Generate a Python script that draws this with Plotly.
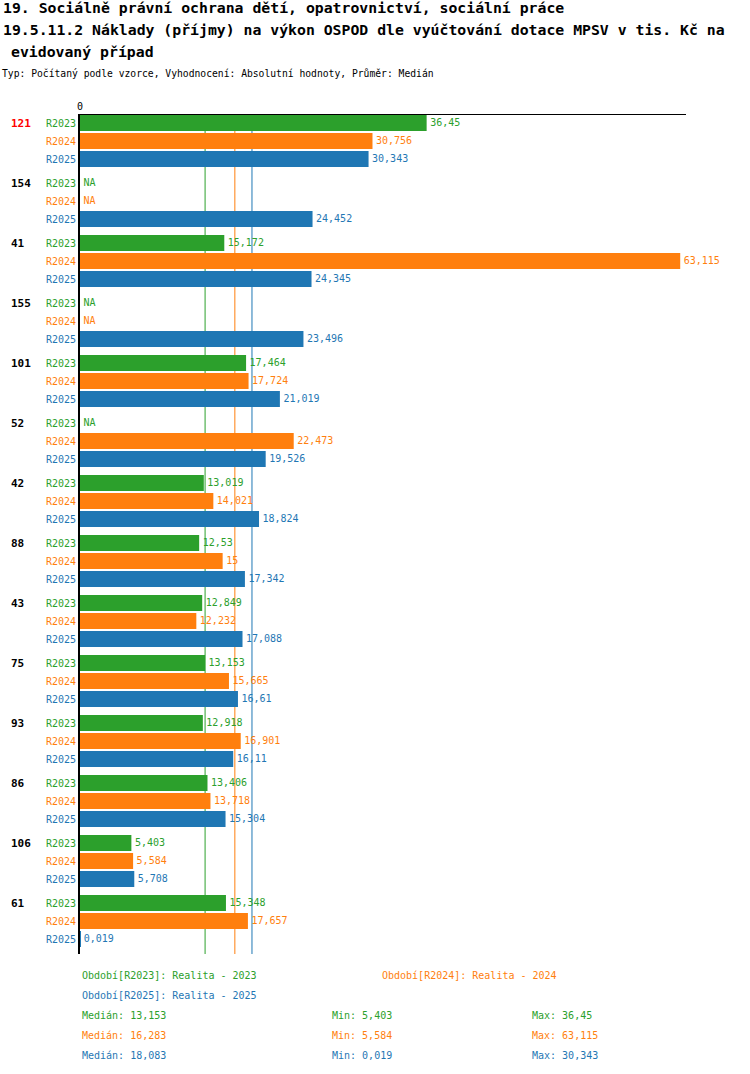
import plotly.graph_objects as go
import numpy as np

# data
groups = ["121", "154", "41", "155", "101", "52", "42", "88", "43", "75", "93", "86", "106", "61"]
periods = ["R2023", "R2024", "R2025"]
period_names = ["Realita - 2023", "Realita - 2024", "Realita - 2025"]
r2023 = [36.45, None, 15.172, None, 17.464, None, 13.019, 12.53, 12.849, 13.153, 12.918, 13.406, 5.403, 15.348]
r2024 = [30.756, None, 63.115, None, 17.724, 22.473, 14.021, 15, 12.232, 15.665, 16.901, 13.718, 5.584, 17.657]
r2025 = [30.343, 24.452, 24.345, 23.496, 21.019, 19.526, 18.824, 17.342, 17.088, 16.61, 16.11, 15.304, 5.708, 0.019]
series = [r2023, r2024, r2025]
colors = ["#2ca02c", "#ff7f0e", "#1f77b4"]
highlight = "121"

FONT = "DejaVu Sans Mono"
W, H = 750, 1074
L, R, T, B = 80, 686, 115, 954   # plot area in pixels
SLOT = 18                        # px per bar row
GROUP = 60                       # px per group


def cz(v):
    return f"{v:g}".replace(".", ",")


def px(x):
    return (x - L) / (R - L)


def py(y):
    return (B - y) / (B - T)


def row_pos(g, k):
    return (g * GROUP + k * SLOT) / SLOT


fig = go.Figure()

annotations = []
for k, (vals, col, per) in enumerate(zip(series, colors, periods)):
    ys = [row_pos(g, k) for g in range(len(groups))]
    xs = [v if v is not None else 0 for v in vals]
    fig.add_trace(go.Bar(
        x=xs,
        y=ys,
        orientation="h",
        width=16 / SLOT,
        marker=dict(color=col, line=dict(width=0)),
        hoverinfo="x",
        showlegend=False,
    ))
    fig.add_trace(go.Scatter(
        x=xs,
        y=ys,
        mode="markers+text",
        marker=dict(size=4, opacity=0),
        text=[cz(v) if v is not None else "NA" for v in vals],
        textposition="middle right",
        textfont=dict(family=FONT, size=10, color=col),
        cliponaxis=False,
        hoverinfo="skip",
        showlegend=False,
    ))
    for y in ys:
        annotations.append(dict(
            x=0, xref="paper", y=y, yref="y", text=per, showarrow=False,
            xanchor="right", xshift=-2, font=dict(family=FONT, size=10, color=col)))

# group labels
for g, name in enumerate(groups):
    annotations.append(dict(
        x=px(9), xref="paper", y=row_pos(g, 0), yref="y", text=f"<b>{name}</b>",
        showarrow=False, xanchor="left",
        font=dict(family=FONT, size=11, color="#ff0000" if name == highlight else "black")))

# median lines
shapes = []
stats = []
for vals, col in zip(series, colors):
    arr = np.array([v for v in vals if v is not None])
    med = float(np.median(arr))
    stats.append((med, arr.min(), arr.max()))
    shapes.append(dict(type="line", xref="x", yref="paper", x0=med, x1=med, y0=0, y1=1,
                       line=dict(color=col, width=1), layer="below"))

# titles
titles = [
    (1, 8, "19. Sociálně právní ochrana dětí, opatrovnictví, sociální práce"),
    (1, 30, "19.5.11.2 Náklady (příjmy) na výkon OSPOD dle vyúčtování dotace MPSV v tis. Kč na"),
    (9, 52, "evidovaný případ"),
]
for x, y, t in titles:
    annotations.append(dict(x=px(x), y=py(y), xref="paper", yref="paper", text=f"<b>{t}</b>",
                            showarrow=False, xanchor="left", yanchor="middle",
                            font=dict(family=FONT, size=14.8, color="black")))
annotations.append(dict(x=px(0), y=py(73), xref="paper", yref="paper",
                        text="Typ: Počítaný podle vzorce, Vyhodnocení: Absolutní hodnoty, Průměr: Medián",
                        showarrow=False, xanchor="left", yanchor="middle",
                        font=dict(family=FONT, size=9.7, color="black")))

# bottom legend / stats
legend_pos = [(80, 975), (380, 975), (80, 995)]
for (x, y), per, name, col in zip(legend_pos, periods, period_names, colors):
    annotations.append(dict(x=px(x), y=py(y), xref="paper", yref="paper",
                            text=f"Období[{per}]: {name}", showarrow=False,
                            xanchor="left", yanchor="middle",
                            font=dict(family=FONT, size=10, color=col)))
for i, ((med, mn, mx), col) in enumerate(zip(stats, colors)):
    y = 1015 + 20 * i
    for x, t in [(80, f"Medián: {cz(round(med, 3))}"), (330, f"Min: {cz(mn)}"), (530, f"Max: {cz(mx)}")]:
        annotations.append(dict(x=px(x), y=py(y), xref="paper", yref="paper", text=t,
                                showarrow=False, xanchor="left", yanchor="middle",
                                font=dict(family=FONT, size=10, color=col)))

last_row = row_pos(len(groups) - 1, 2)
fig.update_layout(
    width=W, height=H,
    margin=dict(l=L, r=W - R, t=T, b=H - B, pad=0),
    paper_bgcolor="white", plot_bgcolor="white",
    barmode="overlay",
    font=dict(family=FONT, size=10, color="black"),
    xaxis=dict(range=[0, (R - L) / 9.51], side="top", tickvals=[0], ticktext=["0"],
               showgrid=False, zeroline=False, showline=True, linecolor="black", linewidth=1,
               ticks="", tickfont=dict(family=FONT, size=10)),
    yaxis=dict(range=[last_row + (B - T - 8 - last_row * SLOT) / SLOT, -8 / SLOT],
               showticklabels=False, showgrid=False, zeroline=False,
               showline=True, linecolor="black", linewidth=2, ticks=""),
    shapes=shapes,
    annotations=annotations,
    showlegend=False,
)

# the page body has a default 8px margin; drop it so the chart sits at 0,0
fig.write_html("out.html", config={"displayModeBar": False},
               post_script="document.body.style.margin='0';")
